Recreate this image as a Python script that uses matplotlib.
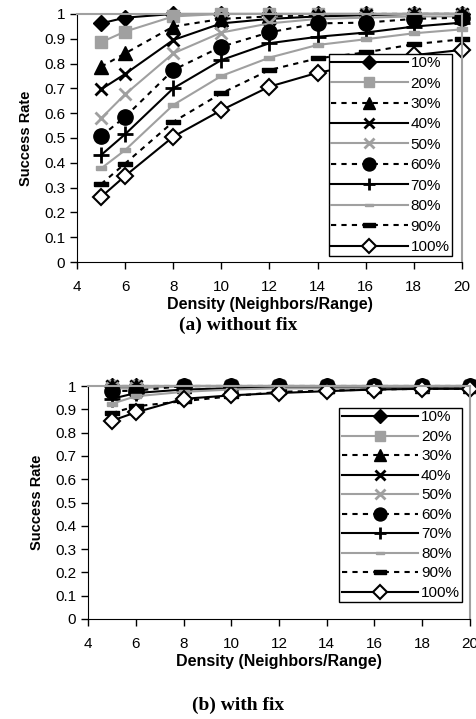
import matplotlib.pyplot as plt

plt.rcParams['font.family'] = ['Liberation Sans', 'DejaVu Sans']

density = [5, 6, 8, 10, 12, 14, 16, 18, 20]
labels = ["10%", "20%", "30%", "40%", "50%", "60%", "70%", "80%", "90%", "100%"]

# (a) without fix
without_fix = [
    [0.962, 0.985, 1.0, 1.0, 1.0, 1.0, 1.0, 1.0, 1.0],
    [0.886, 0.929, 0.99, 1.0, 1.0, 1.0, 1.0, 1.0, 1.0],
    [0.787, 0.841, 0.949, 0.98, 0.99, 0.995, 1.0, 1.0, 1.0],
    [0.696, 0.758, 0.895, 0.962, 0.98, 0.99, 0.995, 1.0, 1.0],
    [0.579, 0.676, 0.841, 0.925, 0.962, 0.98, 0.985, 0.99, 0.99],
    [0.507, 0.585, 0.774, 0.868, 0.926, 0.962, 0.965, 0.98, 0.985],
    [0.431, 0.515, 0.70, 0.814, 0.882, 0.908, 0.925, 0.949, 0.965],
    [0.377, 0.451, 0.633, 0.75, 0.824, 0.875, 0.898, 0.922, 0.938],
    [0.314, 0.397, 0.565, 0.68, 0.774, 0.821, 0.845, 0.878, 0.898],
    [0.262, 0.347, 0.505, 0.612, 0.707, 0.763, 0.80, 0.834, 0.855],
]

# (b) with fix
with_fix = [
    [1.0, 1.0, 1.0, 1.0, 1.0, 1.0, 1.0, 1.0, 1.0],
    [1.0, 1.0, 1.0, 1.0, 1.0, 1.0, 1.0, 1.0, 1.0],
    [1.0, 1.0, 1.0, 1.0, 1.0, 1.0, 1.0, 1.0, 1.0],
    [0.998, 0.998, 1.0, 1.0, 1.0, 1.0, 1.0, 1.0, 1.0],
    [0.99, 0.99, 1.0, 1.0, 1.0, 1.0, 1.0, 1.0, 1.0],
    [0.978, 0.98, 1.0, 1.0, 1.0, 1.0, 1.0, 1.0, 1.0],
    [0.945, 0.97, 0.985, 0.99, 0.995, 0.995, 0.995, 0.995, 0.995],
    [0.924, 0.956, 0.975, 0.985, 0.99, 0.99, 0.99, 0.99, 0.99],
    [0.884, 0.913, 0.935, 0.956, 0.975, 0.98, 0.985, 0.988, 0.988],
    [0.851, 0.887, 0.945, 0.96, 0.97, 0.978, 0.985, 0.988, 0.988],
]

gray = "#a0a0a0"
bar_big = [(-1, -0.35), (1, -0.35), (1, 0.35), (-1, 0.35), (-1, -0.35)]
styles = [
    dict(color="black", ls="-", marker="D", ms=8, mfc="black", mec="black"),
    dict(color=gray, ls="-", marker="s", ms=9, mfc=gray, mec=gray),
    dict(color="black", ls=(0, (2.5, 2.5)), marker="^", ms=10, mfc="black", mec="black"),
    dict(color="black", ls="-", marker="x", ms=9, mew=2, mec="black"),
    dict(color=gray, ls="-", marker="x", ms=9, mew=2, mec=gray),
    dict(color="black", ls=(0, (2.5, 2.5)), marker="o", ms=11, mfc="black", mec="black"),
    dict(color="black", ls="-", marker="+", ms=11, mew=2, mec="black"),
    dict(color=gray, ls="-", marker=bar_big, ms=7, mfc=gray, mec=gray),
    dict(color="black", ls=(0, (2.5, 2.5)), marker=bar_big, ms=10, mfc="black", mec="black"),
    dict(color="black", ls="-", marker="D", ms=8, mfc="white", mec="black", mew=1.5),
]

fig = plt.figure(figsize=(4.77, 7.19), dpi=100)
ax1 = fig.add_axes([0.1614, 0.6356, 0.807, 0.345])
ax2 = fig.add_axes([0.1845, 0.1391, 0.8008, 0.324])


def draw(ax, data, legend_anchor, spacing):
    for vals, lab, st in zip(data, labels, styles):
        ax.plot(density, vals, label=lab, lw=1.5, clip_on=False, **st)
    ax.set_xlim(4, 20)
    ax.set_ylim(0, 1)
    ax.set_xticks(range(4, 21, 2))
    ax.set_yticks([i / 10 for i in range(11)])
    ax.set_yticklabels(["0", "0.1", "0.2", "0.3", "0.4", "0.5", "0.6", "0.7", "0.8", "0.9", "1"])
    ax.tick_params(labelsize=11, length=5, direction="out", width=1)
    ax.tick_params(axis="x", pad=8)
    ax.spines["top"].set_color(gray)
    ax.spines["right"].set_color(gray)
    ax.spines["top"].set_linewidth(1.5)
    ax.spines["right"].set_linewidth(1.5)
    ax.set_xlabel("Density (Neighbors/Range)", fontsize=11.5, fontweight="bold", labelpad=2)
    ax.set_ylabel("Success Rate", fontsize=10.5, fontweight="bold", labelpad=8)
    leg = ax.legend(loc="upper right", bbox_to_anchor=legend_anchor, fontsize=11,
                    handlelength=5.0, handletextpad=0.2, labelspacing=spacing,
                    borderpad=0.15, borderaxespad=0, fancybox=False, markerscale=0.85,
                    framealpha=1, edgecolor="black")
    leg.get_frame().set_linewidth(1)


draw(ax1, without_fix, (0.974, 0.839), 0.42)
draw(ax2, with_fix, (0.98, 0.905), 0.36)

fig.text(0.5, 0.548, "(a) without fix", ha="center", va="center",
         family="Liberation Serif", fontweight="bold", fontsize=14)
fig.text(0.5, 0.019, "(b) with fix", ha="center", va="center",
         family="Liberation Serif", fontweight="bold", fontsize=14)

plt.savefig("out.png", dpi=100)
